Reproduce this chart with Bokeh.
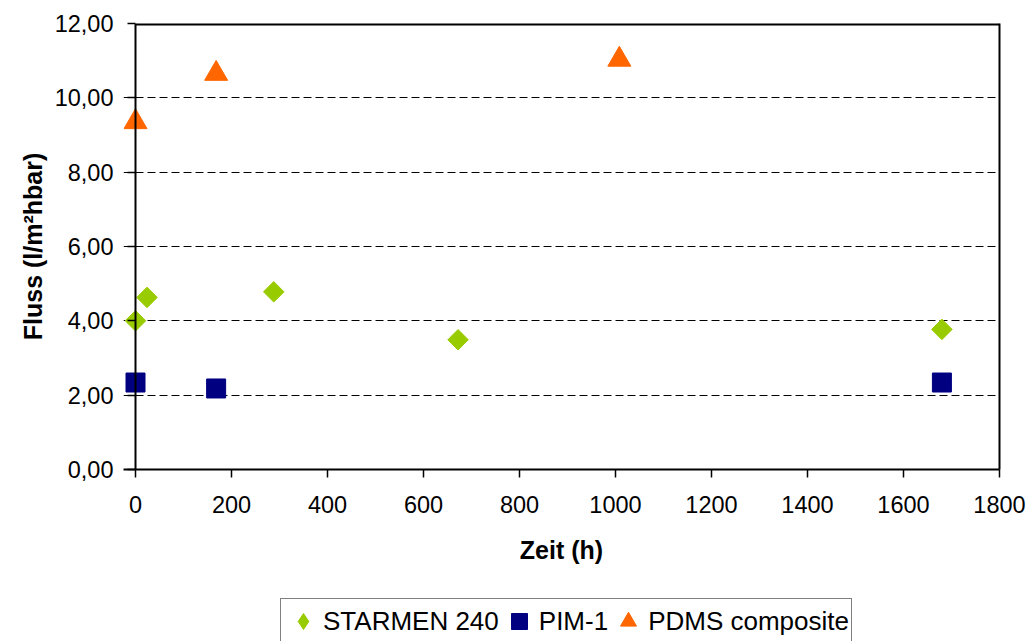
import math
from bokeh.plotting import figure
from bokeh.layouts import column
from bokeh.models import Range1d, FixedTicker, Legend, LegendItem, Span, LinearAxis
from bokeh.embed import file_html
from bokeh.resources import INLINE

# ---- data ----
starmen_t = [0, 24, 288, 672, 1680]
starmen_flux = [4.00, 4.63, 4.78, 3.49, 3.77]
pim_t = [0, 168, 1680]
pim_flux = [2.34, 2.18, 2.34]
pdms_t = [0, 168, 1008]
pdms_flux = [9.35, 10.65, 11.03]

series_names = ["STARMEN 240", "PIM-1", "PDMS composite"]
series_colors = ["#99CC00", "#000080", "#FF6600"]
x_ticks = [0, 200, 400, 600, 800, 1000, 1200, 1400, 1600, 1800]
y_ticks = [0, 2, 4, 6, 8, 10, 12]
y_tick_labels = ["0,00", "2,00", "4,00", "6,00", "8,00", "10,00", "12,00"]
x_title = "Zeit (h)"
y_title = "Fluss (l/m\u00b2hbar)"

X_MIN, X_MAX = 0, 1800
Y_MIN, Y_MAX = 0, 12
X_PAD = 25  # room so that markers at t=0 are not cut by the frame

FONT = "Liberation Sans"
BORDER_L, BORDER_R = 123, 32

p = figure(width=1031, height=590,
           x_range=Range1d(X_MIN - X_PAD, X_MAX), y_range=Range1d(Y_MIN, Y_MAX),
           output_backend="svg", toolbar_location=None,
           min_border_left=BORDER_L, min_border_right=BORDER_R,
           min_border_top=23, min_border_bottom=121)

p.background_fill_color = "white"
p.border_fill_color = "white"
p.outline_line_color = None

# grids
p.xgrid.grid_line_color = None
p.ygrid.grid_line_color = "black"
p.ygrid.grid_line_dash = "8 4"
p.ygrid.grid_line_width = 1
p.ygrid.ticker = FixedTicker(ticks=y_ticks[1:-1])

# axes
p.xaxis.ticker = FixedTicker(ticks=x_ticks)
p.yaxis.ticker = FixedTicker(ticks=y_ticks)
p.yaxis.major_label_overrides = {t: lab for t, lab in zip(y_ticks, y_tick_labels)}
for ax in (p.xaxis, p.yaxis):
    ax.axis_line_color = "black"
    ax.axis_line_width = 2
    ax.major_tick_line_color = "black"
    ax.major_tick_line_width = 1.5
    ax.minor_tick_line_color = None
    ax.major_label_text_font = FONT
    ax.major_label_text_font_size = "23.5px"
    ax.major_label_text_color = "black"
    ax.axis_label_text_font = FONT
    ax.axis_label_text_font_size = "25px"
    ax.axis_label_text_font_style = "bold"
    ax.axis_label_text_color = "black"

p.xaxis.major_tick_in = 0
p.xaxis.major_tick_out = 8
p.xaxis.major_label_standoff = 18
p.xaxis.axis_label_standoff = 20

# y axis: the visible axis line sits at t = 0, ticks reach out to the left of it
p.yaxis.axis_line_color = None
p.yaxis.major_tick_in = 12
p.yaxis.major_tick_out = -4
p.yaxis.major_label_standoff = 10
p.yaxis.axis_label_standoff = 5

p.xaxis.axis_label = x_title
p.yaxis.axis_label = y_title

p.add_layout(Span(location=X_MIN, dimension="height", line_color="black", line_width=2))
# top and right border of the plot area
p.segment(x0=[X_MIN], x1=[X_MAX], y0=[Y_MAX], y1=[Y_MAX], line_color="black", line_width=4)
right_axis = LinearAxis(ticker=FixedTicker(ticks=[]), major_label_text_font_size="0px",
                        axis_line_color="black", axis_line_width=2,
                        major_tick_line_color=None, minor_tick_line_color=None)
p.add_layout(right_axis, "right")

# series
p.scatter(starmen_t, starmen_flux, marker="square", angle=math.pi / 4,
          size=14.5, fill_color=series_colors[0], line_color=series_colors[0])
p.scatter(pim_t, pim_flux, marker="square", size=19,
          fill_color=series_colors[1], line_color=series_colors[1])
p.scatter(pdms_t, pdms_flux, marker="triangle", size=23,
          fill_color=series_colors[2], line_color=series_colors[2])

# ---- legend strip below the chart ----
# the same series are drawn here outside of the visible range; only their legend shows
q = figure(width=1031, height=51, x_range=Range1d(0, 1), y_range=Range1d(-2, -1),
           output_backend="svg", toolbar_location=None,
           x_axis_location=None, y_axis_location=None,
           min_border_left=BORDER_L, min_border_right=BORDER_R,
           min_border_top=0, min_border_bottom=0)
q.grid.visible = False
q.outline_line_color = None
q.background_fill_color = "white"
q.border_fill_color = "white"

e1 = q.scatter(starmen_t, starmen_flux, marker="diamond",
               fill_color=series_colors[0], line_color=series_colors[0])
e2 = q.scatter(pim_t, pim_flux, marker="square",
               fill_color=series_colors[1], line_color=series_colors[1])
e3 = q.scatter(pdms_t, pdms_flux, marker="triangle",
               fill_color=series_colors[2], line_color=series_colors[2])

legend = Legend(items=[LegendItem(label=series_names[0], renderers=[e1]),
                       LegendItem(label=series_names[1], renderers=[e2]),
                       LegendItem(label=series_names[2], renderers=[e3])],
                orientation="horizontal", location=(157, -3))
legend.label_text_font = FONT
legend.label_text_font_size = "26px"
legend.label_text_color = "black"
legend.border_line_color = "black"
legend.border_line_width = 1
legend.background_fill_color = "white"
legend.glyph_width = 40
legend.glyph_height = 40
legend.label_standoff = 0
legend.spacing = 0
legend.padding = 2
legend.margin = 0
q.add_layout(legend, "center")

layout = column(p, q, spacing=0)
open("out.html", "w").write(file_html(layout, INLINE))
